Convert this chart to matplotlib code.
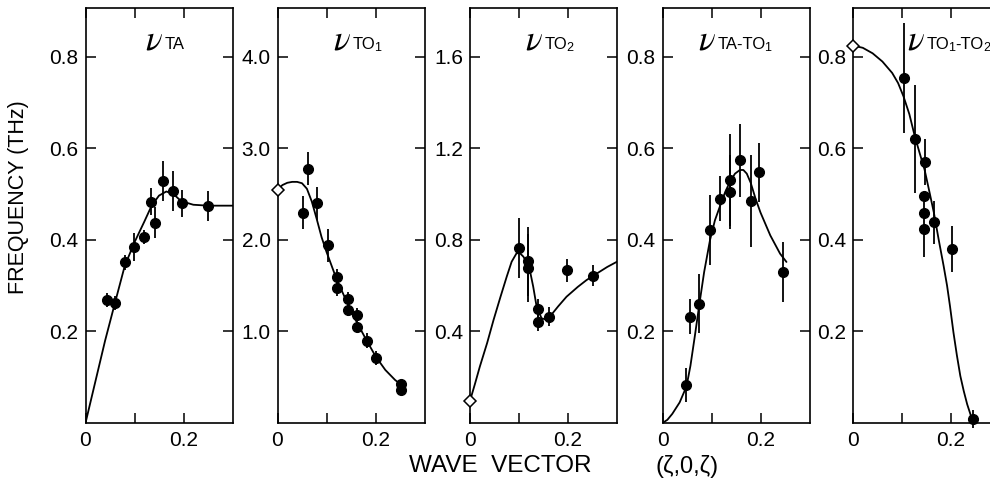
import matplotlib
matplotlib.use("Agg")
import matplotlib.pyplot as plt

plt.rcParams['font.family'] = ['Liberation Sans', 'DejaVu Sans']

# ---------------- data ----------------
# Panel 1: nu_TA
p1_x = [0.043, 0.061, 0.080, 0.099, 0.119, 0.134, 0.141, 0.158, 0.178, 0.196, 0.250]
p1_y = [0.269, 0.263, 0.351, 0.385, 0.407, 0.484, 0.438, 0.529, 0.507, 0.480, 0.475]
p1_e = [0.016, 0.015, 0.016, 0.030, 0.015, 0.030, 0.033, 0.043, 0.043, 0.030, 0.033]
p1_cx = [0, 0.02, 0.04, 0.06, 0.08, 0.10, 0.12, 0.135, 0.15, 0.165, 0.18, 0.195, 0.22, 0.25, 0.30]
p1_cy = [0, 0.09, 0.18, 0.262, 0.343, 0.395, 0.44, 0.475, 0.497, 0.506, 0.500, 0.485, 0.477, 0.475, 0.475]

# Panel 2: nu_TO1
p2_x = [0.052, 0.063, 0.081, 0.103, 0.122, 0.122, 0.143, 0.143, 0.162, 0.162, 0.182, 0.200, 0.253, 0.253]
p2_y = [2.30, 2.78, 2.40, 1.94, 1.60, 1.47, 1.35, 1.23, 1.18, 1.05, 0.90, 0.71, 0.43, 0.36]
p2_e = [0.18, 0.18, 0.18, 0.18, 0.08, 0.08, 0.08, 0.06, 0.08, 0.05, 0.08, 0.08, 0.04, 0.03]
p2_dx = [0.0]
p2_dy = [2.55]
p2_cx = [0, 0.01, 0.02, 0.03, 0.04, 0.05, 0.06, 0.07, 0.08, 0.09, 0.10, 0.12, 0.14, 0.16, 0.18, 0.20, 0.22, 0.24, 0.253]
p2_cy = [2.55, 2.60, 2.625, 2.635, 2.635, 2.62, 2.56, 2.42, 2.23, 2.03, 1.87, 1.58, 1.34, 1.12, 0.92, 0.73, 0.58, 0.47, 0.415]

# Panel 3: nu_TO2
p3_x = [0.100, 0.119, 0.119, 0.139, 0.139, 0.161, 0.197, 0.250]
p3_y = [0.764, 0.706, 0.677, 0.500, 0.442, 0.465, 0.667, 0.644]
p3_e = [0.13, 0.15, 0.15, 0.04, 0.04, 0.04, 0.05, 0.045]
p3_dx = [0.0]
p3_dy = [0.097]
p3_cx = [0, 0.01, 0.02, 0.035, 0.048, 0.062, 0.075, 0.085, 0.095, 0.102, 0.109, 0.116, 0.122, 0.129, 0.136, 0.146, 0.155, 0.163, 0.18, 0.197, 0.22, 0.238, 0.26, 0.28, 0.30]
p3_cy = [0.097, 0.17, 0.246, 0.35, 0.45, 0.55, 0.64, 0.705, 0.742, 0.742, 0.727, 0.70, 0.669, 0.596, 0.508, 0.458, 0.452, 0.465, 0.51, 0.552, 0.595, 0.625, 0.655, 0.682, 0.705]

# Panel 4: nu_TA-TO1
p4_x = [0.047, 0.057, 0.075, 0.097, 0.117, 0.137, 0.137, 0.159, 0.180, 0.197, 0.246]
p4_y = [0.083, 0.232, 0.261, 0.422, 0.490, 0.531, 0.505, 0.574, 0.485, 0.548, 0.330]
p4_e = [0.038, 0.038, 0.064, 0.076, 0.049, 0.10, 0.08, 0.08, 0.10, 0.065, 0.065]
p4_cx = [0, 0.01, 0.02, 0.035, 0.049, 0.057, 0.066, 0.075, 0.085, 0.097, 0.107, 0.117, 0.128, 0.138, 0.148, 0.158, 0.165, 0.172, 0.18, 0.19, 0.20, 0.22, 0.24, 0.253]
p4_cy = [0, 0.007, 0.02, 0.045, 0.08, 0.125, 0.19, 0.258, 0.33, 0.40, 0.443, 0.473, 0.505, 0.528, 0.545, 0.553, 0.553, 0.545, 0.525, 0.49, 0.46, 0.41, 0.37, 0.352]

# Panel 5: nu_TO1-TO2
p5_x = [0.105, 0.126, 0.146, 0.144, 0.144, 0.144, 0.165, 0.202, 0.245]
p5_y = [0.754, 0.620, 0.571, 0.496, 0.460, 0.423, 0.439, 0.381, 0.009]
p5_e = [0.12, 0.118, 0.05, 0.0, 0.0, 0.06, 0.047, 0.05, 0.02]
p5_dx = [0.0]
p5_dy = [0.825]
p5_cx = [0, 0.02, 0.04, 0.06, 0.08, 0.092, 0.103, 0.115, 0.126, 0.136, 0.146, 0.155, 0.165, 0.175, 0.185, 0.192, 0.198, 0.205, 0.212, 0.219, 0.226, 0.233, 0.24, 0.245]
p5_cy = [0.825, 0.82, 0.808, 0.79, 0.765, 0.743, 0.714, 0.675, 0.627, 0.59, 0.554, 0.51, 0.46, 0.40, 0.343, 0.30, 0.255, 0.198, 0.148, 0.103, 0.07, 0.041, 0.018, 0.005]

ylims = [0.907, 4.535, 1.814, 0.907, 0.907]
yticks = [[0.2, 0.4, 0.6, 0.8], [1.0, 2.0, 3.0, 4.0], [0.4, 0.8, 1.2, 1.6],
          [0.2, 0.4, 0.6, 0.8], [0.2, 0.4, 0.6, 0.8]]
ytlabels = [["0.2", "0.4", "0.6", "0.8"], ["1.0", "2.0", "3.0", "4.0"],
            ["0.4", "0.8", "1.2", "1.6"], ["0.2", "0.4", "0.6", "0.8"],
            ["0.2", "0.4", "0.6", "0.8"]]
xticks = [0, 0.1, 0.2]
xtlabels = ["0", "", "0.2"]

# title pieces: (text, size in pt, baseline shift in px, gap before in px)
titles = [
    (0.405, [("TA", 12, 0, 1.5)]),
    (0.378, [("TO", 12, 0, 1.5), ("1", 9, -2, -1.0)]),
    (0.374, [("TO", 12, 0, 1.5), ("2", 9, -2, -0.5)]),
    (0.240, [("TA-TO", 12, 0, 1.5), ("1", 9, -2, -1.0)]),
    (0.367, [("TO", 12, 0, 1.5), ("1", 9, -2, -1.0), ("-TO", 12, 0, 0.0),
             ("2", 9, -2, -0.5)]),
]

panels = [
    (p1_x, p1_y, p1_e, None, None, p1_cx, p1_cy),
    (p2_x, p2_y, p2_e, p2_dx, p2_dy, p2_cx, p2_cy),
    (p3_x, p3_y, p3_e, p3_dx, p3_dy, p3_cx, p3_cy),
    (p4_x, p4_y, p4_e, None, None, p4_cx, p4_cy),
    (p5_x, p5_y, p5_e, p5_dx, p5_dy, p5_cx, p5_cy),
]

W, H = 990, 484
fig = plt.figure(figsize=(W / 100, H / 100), dpi=100)
renderer = fig.canvas.get_renderer()

lefts_px = [85.5, 277.5, 470.0, 662.5, 853.0]
width_px = 147.0
bottom_px = 423.0
top_px = 8.0
title_base_px = 49.0

for i, (xs, ys, es, dxs, dys, cx, cy) in enumerate(panels):
    ax = fig.add_axes([lefts_px[i] / W, (H - bottom_px) / H,
                       width_px / W, (bottom_px - top_px) / H])
    ax.set_xlim(0, 0.3)
    ax.set_ylim(0, ylims[i])
    ax.plot(cx, cy, color='k', lw=1.3, solid_capstyle='round',
            solid_joinstyle='round')
    ax.errorbar(xs, ys, yerr=es, fmt='o', color='k', ms=7, elinewidth=1.3,
                capsize=0, clip_on=False, zorder=3)
    if dxs is not None:
        ax.plot(dxs, dys, 'D', ms=6.5, mfc='white', mec='k', mew=1.1,
                clip_on=False, zorder=4)
    ax.set_xticks(xticks)
    ax.set_xticklabels(xtlabels)
    ax.set_yticks(yticks[i])
    ax.set_yticklabels(ytlabels[i])
    ax.tick_params(direction='in', length=7, width=1.1, labelsize=15,
                   top=True, right=True, pad=5)
    ax.tick_params(axis='x', pad=6)
    for sp in ax.spines.values():
        sp.set_linewidth(1.2)

    # title: italic nu followed by sans-serif subscript pieces
    xf, parts = titles[i]
    x_disp = lefts_px[i] + xf * width_px
    base_disp = H - title_base_px
    t = fig.text(x_disp / W, base_disp / H, r'$\nu$', fontsize=25,
                 va='baseline', ha='left', math_fontfamily='stix')
    bb = t.get_window_extent(renderer)
    x_disp = bb.x1
    for s, size, dy, gap in parts:
        x_disp += gap
        tt = fig.text(x_disp / W, (base_disp + dy) / H, s, fontsize=size,
                      va='baseline', ha='left')
        bb = tt.get_window_extent(renderer)
        x_disp = bb.x1

fig.text(19 / W, 1 - 197 / H, "FREQUENCY (THz)", rotation=90, fontsize=15.5,
         ha='center', va='center')
fig.text(500 / W, 1 - 466 / H, "WAVE  VECTOR", fontsize=17.5, ha='center',
         va='center')
fig.text(687 / W, 1 - 467 / H, "(ζ,0,ζ)", fontsize=17, ha='center',
         va='center')

fig.savefig("out.png", dpi=100)
